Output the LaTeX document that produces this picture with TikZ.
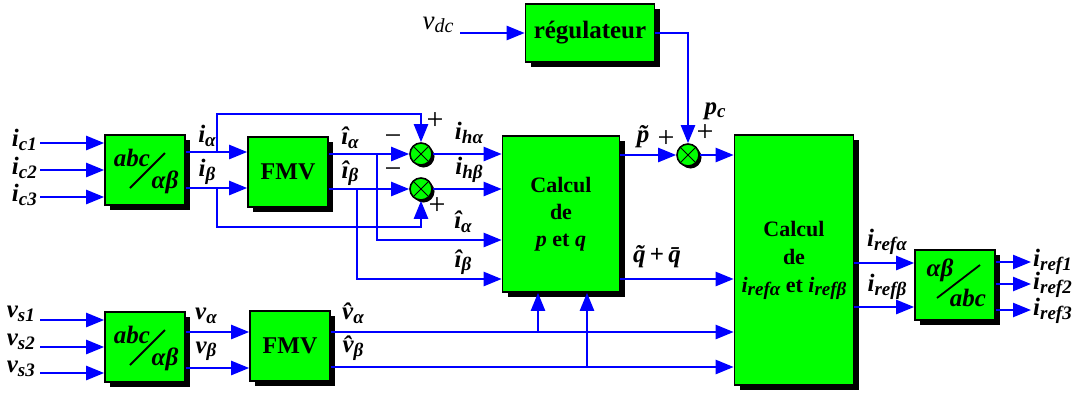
\documentclass[tikz,border=0pt]{standalone}
\usepackage{fontspec}
\setmainfont{Liberation Serif}
\usetikzlibrary{arrows.meta,positioning,shadows}
\definecolor{blocvert}{RGB}{0,255,0}
\definecolor{filbleu}{RGB}{0,0,255}
\newcommand{\sub}[2]{#1\raisebox{-0.3ex}{\fontsize{19}{20}\selectfont #2}}
\tikzset{
  bloc/.style={rectangle, draw=black, line width=1.6pt, fill=blocvert,
    minimum width=80pt, minimum height=70pt, inner sep=0pt, align=center,
    font=\fontsize{24}{27}\selectfont\bfseries,
    drop shadow={shadow xshift=5pt, shadow yshift=-5pt, fill=black, opacity=1}},
  somme/.style={circle, draw=black, line width=1.6pt, fill=blocvert,
    minimum size=22pt, inner sep=0pt,
    drop shadow={shadow xshift=2.5pt, shadow yshift=-2.5pt, fill=black, opacity=1},
    path picture={\draw[black, line width=0.9pt]
      (path picture bounding box.center) ++(45:10pt) -- ++(225:20pt)
      (path picture bounding box.center) ++(135:10pt) -- ++(-45:20pt);}},
  fil/.style={line width=2.4pt, draw=filbleu},
  fleche/.style={fil, -{Triangle[length=18pt, width=14pt]}},
  lbl/.style={font=\fontsize{25}{27}\selectfont\bfseries\itshape, inner sep=1pt},
  sgn/.style={font=\fontsize{30}{32}\selectfont, inner sep=0pt},
  txt/.style={font=\fontsize{25}{27}\selectfont\bfseries\itshape, inner sep=0pt},
}
\begin{document}
\begin{tikzpicture}[x=1pt, y=-1pt]
    \useasboundingbox (0,0) rectangle (1079,394);
    % blocs
    \node[bloc](abcA) at (145,170){};
    \node[bloc](fmvA) at (288,172){FMV};
    \node[bloc](abcB) at (145,347){};
    \node[bloc](fmvB) at (290,346){FMV};
    \node[bloc, minimum width=117pt, minimum height=156pt, font=\fontsize{22}{27}\selectfont\bfseries](pq) at (561,214){Calcul\\de\\\textit{p} et \textit{q}};
    \node[bloc, minimum width=129pt, minimum height=58pt, font=\fontsize{25}{27}\selectfont\bfseries](reg) at (590,33){régulateur};
    \node[bloc, minimum width=119pt, minimum height=250pt, font=\fontsize{22}{28}\selectfont\bfseries](iref) at (794,260){Calcul\\de\\\textit{\sub{i}{refα}} et \textit{\sub{i}{refβ}}};
    \node[bloc](inv) at (955,285){};
    \node[somme](sum1) at (421,154){};
    \node[somme](sum2) at (421,189){};
    \node[somme](sum3) at (688,155){};
    % textes des transformations
    \node[txt](abcAt) at (132,158){abc};
    \node[txt](abcAg) at (165,182){αβ};
    \draw[line width=1.8pt](130,188)--(165,153);
    \node[txt](abcBt) at (132,335){abc};
    \node[txt](abcBg) at (165,359){αβ};
    \draw[line width=1.8pt](130,365)--(165,330);
    \node[txt](invg) at (940,270){αβ};
    \node[txt](invt) at (968,298){abc};
    \draw[line width=1.8pt](937,298)--(980,265);
    % entrees
    \coordinate (c1) at (40,143); \coordinate (c2) at (40,170); \coordinate (c3) at (40,197);
    \coordinate (s1) at (40,320); \coordinate (s2) at (40,347); \coordinate (s3) at (40,373);
    \coordinate (vdc) at (460,33);
    \node[lbl, anchor=east] at (38,140){\sub{i}{c1}};
    \node[lbl, anchor=east] at (38,168){\sub{i}{c2}};
    \node[lbl, anchor=east] at (38,195){\sub{i}{c3}};
    \node[lbl, anchor=east] at (36,314){\sub{v}{s1}};
    \node[lbl, anchor=east] at (36,342){\sub{v}{s2}};
    \node[lbl, anchor=east] at (36,369){\sub{v}{s3}};
    \node[lbl, font=\fontsize{27}{29}\selectfont\itshape] at (438,25){v\raisebox{-0.3ex}{\fontsize{20}{21}\selectfont dc}};
    \draw[fleche](c1)--(c1 -| abcA.west);\draw[fleche](c2)--(c2 -| abcA.west);\draw[fleche](c3)--(c3 -| abcA.west);
    \draw[fleche](s1)--(s1 -| abcB.west);\draw[fleche](s2)--(s2 -| abcB.west);\draw[fleche](s3)--(s3 -| abcB.west);
    \draw[fleche](vdc)--(reg.west);
    % partie courants
    \coordinate (ja) at (217,152); \coordinate (jb) at (217,188);
    \coordinate (jha) at (377,154); \coordinate (jhb) at (357,189);
    \draw[fleche](abcA.east |- ja)--(fmvA.west |- ja);
    \draw[fleche](abcA.east |- jb)--(fmvA.west |- jb);
    \draw[fleche](ja)--(217,114)-|(sum1.north);
    \draw[fleche](jb)--(217,227)-|(sum2.south);
    \draw[fleche](fmvA.east |- sum1)--(sum1.west);
    \draw[fleche](fmvA.east |- sum2)--(sum2.west);
    \draw[fleche](jha)|-(pq.west |- 0,240);
    \draw[fleche](jhb)|-(pq.west |- 0,279);
    \draw[fleche](sum1.east)--(pq.west |- sum1);
    \draw[fleche](sum2.east)--(pq.west |- sum2);
    \draw[fleche](pq.east |- sum3)--(sum3.west);
    \draw[fleche](reg.east)-|(sum3.north);
    \draw[fleche](sum3.east)--(iref.west |- sum3);
    \draw[fleche](pq.east |- 0,279)--(iref.west |- 0,279);
    \draw[fleche](iref.east |- 0,263)--(inv.west |- 0,263);
    \draw[fleche](iref.east |- 0,307)--(inv.west |- 0,307);
    \coordinate (r1) at (1031,262); \coordinate (r2) at (1031,284); \coordinate (r3) at (1031,310);
    \draw[fleche](inv.east |- r1)--(r1);\draw[fleche](inv.east |- r2)--(r2);\draw[fleche](inv.east |- r3)--(r3);
    \node[lbl, anchor=west] at (1032,262){\sub{i}{ref1}};
    \node[lbl, anchor=west] at (1032,285){\sub{i}{ref2}};
    \node[lbl, anchor=west] at (1032,311){\sub{i}{ref3}};
    % partie tensions
    \coordinate (jva) at (538,332); \coordinate (jvb) at (587,367);
    \draw[fleche](abcB.east |- 0,332)--(fmvB.west |- 0,332);
    \draw[fleche](abcB.east |- 0,368)--(fmvB.west |- 0,368);
    \draw[fleche](fmvB.east |- jva)--(iref.west |- jva);
    \draw[fleche](fmvB.east |- jvb)--(iref.west |- jvb);
    \draw[fleche](jva)--(jva |- pq.south);
    \draw[fleche](jvb)--(jvb |- pq.south);
    % etiquettes
    \node[lbl] at (207,136){\sub{i}{α}};
    \node[lbl] at (207,172){\sub{i}{β}};
    \node[lbl] at (350,138){\sub{\^{i}}{α}};
    \node[lbl] at (350,173){\sub{\^{i}}{β}};
    \node[lbl] at (469,133){\sub{i}{hα}};
    \node[lbl] at (469,170){\sub{i}{hβ}};
    \node[lbl] at (463,222){\sub{\^{i}}{α}};
    \node[lbl] at (463,262){\sub{\^{i}}{β}};
    \node[lbl] at (643,137){\~{p}};
    \node[lbl] at (657,257){\~{q}\,\textup{+}\,\={q}};
    \node[lbl] at (715,111){\sub{p}{c}};
    \node[lbl] at (887,242){\sub{i}{refα}};
    \node[lbl] at (887,287){\sub{i}{refβ}};
    \node[lbl] at (206,316){\sub{v}{α}};
    \node[lbl] at (206,351){\sub{v}{β}};
    \node[lbl] at (353,313){\sub{\^{v}}{α}};
    \node[lbl] at (353,348){\sub{\^{v}}{β}};
    \node[sgn] at (393,140){−};
    \node[sgn] at (435,121){+};
    \node[sgn] at (393,173){−};
    \node[sgn] at (437,206){+};
    \node[sgn] at (666,139){+};
    \node[sgn] at (705,133){+};
  \end{tikzpicture}
\end{document}
